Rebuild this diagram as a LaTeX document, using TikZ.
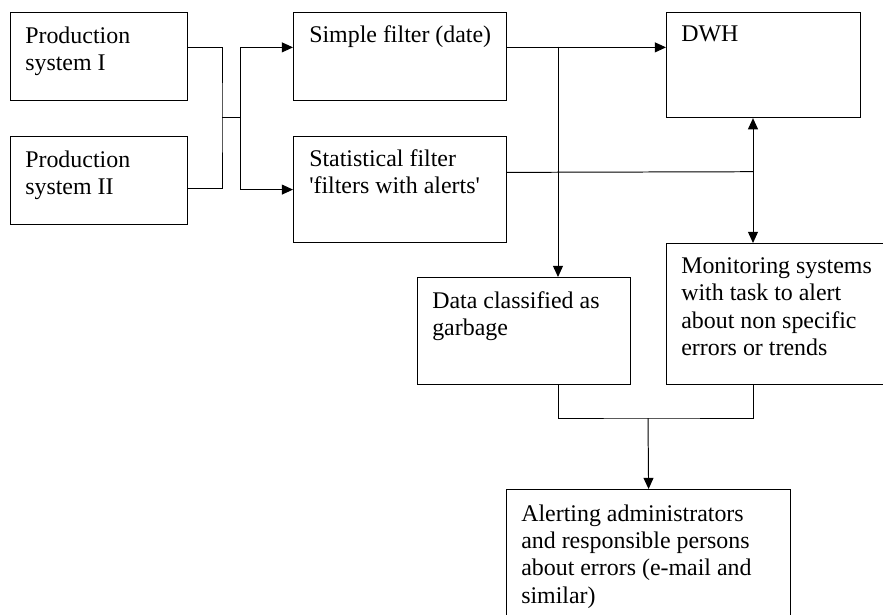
\documentclass[tikz,border=0pt]{standalone}
\usepackage{fontspec}
\setmainfont{Liberation Serif}
\usepackage{tikz}
\usetikzlibrary{arrows.meta,positioning}

\begin{document}
\begin{tikzpicture}[x=0.025cm, y=-0.025cm,
    box/.style={draw, line width=0.8pt, anchor=north west, inner sep=0pt},
    txt/.style={anchor=north west, inner sep=0pt, align=left, font=\fontsize{17}{19.5}\selectfont},
    line/.style={line width=0.7pt},
    arr/.style={line, -{Triangle[length=0.28cm, width=0.25cm]}},
    arrs/.style={line, {Triangle[length=0.28cm, width=0.25cm]}-{Triangle[length=0.28cm, width=0.25cm]}}
]
\useasboundingbox (0,0) rectangle (883,614);
\node[box, minimum width=4.425cm, minimum height=2.2cm] (ps1) at (10,12) {};
\node[box, minimum width=4.425cm, minimum height=2.2cm] (ps2) at (10,136) {};
\node[box, minimum width=5.325cm, minimum height=2.2cm] (simp) at (293,12) {};
\node[box, minimum width=5.325cm, minimum height=2.65cm] (stat) at (293,136) {};
\node[box, minimum width=4.85cm, minimum height=2.625cm] (dwh) at (666,12) {};
\node[box, minimum width=5.625cm, minimum height=3.525cm] (mon) at (666,243) {};
\node[box, minimum width=5.325cm, minimum height=2.675cm] (garb) at (417,277) {};
\node[box, minimum width=7.1cm, minimum height=3.5cm] (alrt) at (506,489) {};

\node[txt, below right=0.36cm and 0.375cm of ps1.north west] (ps1t) {Production\\system I};
\node[txt, below right=0.36cm and 0.375cm of ps2.north west] (ps2t) {Production\\system II};
\node[txt, below right=0.33cm and 0.4cm of simp.north west] (simpt) {Simple filter (date)};
\node[txt, below right=0.33cm and 0.4cm of stat.north west] (statt) {Statistical filter\\\textquotesingle filters with alerts\textquotesingle};
\node[txt, below right=0.33cm and 0.375cm of dwh.north west] (dwht) {DWH};
\node[txt, below right=0.36cm and 0.375cm of mon.north west] (mont) {Monitoring systems\\with task to alert\\about non specific\\errors or trends};
\node[txt, below right=0.36cm and 0.375cm of garb.north west] (garbt) {Data classified as\\garbage};
\node[txt, below right=0.38cm and 0.375cm of alrt.north west] (alrtt) {Alerting administrators\\and responsible persons\\about errors (e-mail and\\similar)};

\coordinate (mrg) at (222,117.5);
\coordinate (spl) at (240,117.5);
\coordinate (tap) at (558,46.7);
\coordinate (bus) at (753,171.7);
\coordinate (mrg2) at (648,418);

\draw[line] ([yshift=0.23cm]ps1.east) -| (mrg) |- ([yshift=-0.21cm]ps2.east);
\draw[line] (mrg) -- (spl);
\draw[arr] (spl) |- ([yshift=0.23cm]simp.west);
\draw[arr] (spl) |- (stat.west);
\draw[arr] ([yshift=0.23cm]simp.east) -- ([yshift=0.23cm]simp.east -| dwh.west);
\draw[arr] (tap) -- (tap |- garb.north);
\draw[line] ([yshift=0.43cm]stat.east) -- (bus);
\draw[arrs] (bus |- dwh.south) -- (bus |- mon.north);
\draw[line] (tap |- garb.south) |- (mrg2) -| (bus |- mon.south);
\draw[arr] (mrg2) -- (alrt.north);
\end{tikzpicture}
\end{document}
